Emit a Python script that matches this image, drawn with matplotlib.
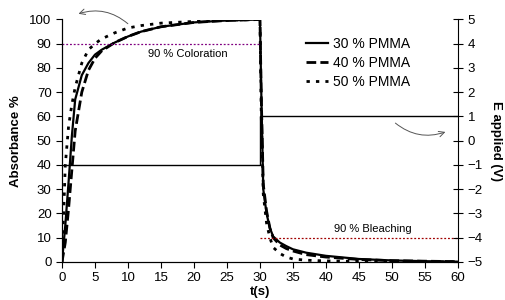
import matplotlib
matplotlib.use("Agg")
import matplotlib.pyplot as plt

plt.rcParams['font.family'] = ['Liberation Sans', 'DejaVu Sans']

# time axis (s): coloration then bleaching
t_data = [0, 0.5, 1, 1.5, 2, 3, 4, 5, 6, 8, 10, 12, 15, 20, 25, 29.9,
          30, 30.2, 30.5, 31, 31.5, 32, 33, 34, 35, 37, 40, 45, 50, 55, 60]

abs_30 = [0, 15, 33, 52, 67, 77, 82, 85.5, 87.5, 90.5, 93, 95, 97, 98.8, 99.6, 100,
          100, 70, 30, 20, 14, 10.5, 8, 6.5, 5.2, 3.8, 2.5, 1.2, 0.6, 0.3, 0.1]
abs_40 = [0, 8, 22, 38, 54, 70, 79, 84, 87, 90.5, 93, 95, 97, 98.8, 99.6, 100,
          100, 68, 32, 21, 14, 10, 7, 5.5, 4.5, 3, 2, 1, 0.5, 0.3, 0.1]
abs_50 = [0, 40, 56, 65, 72, 82, 87.5, 90, 92, 94.5, 96.5, 97.5, 98.5, 99.2, 99.7, 100,
          100, 60, 28, 16, 10, 6, 3.5, 2, 1.2, 0.7, 0.4, 0.2, 0.1, 0.05, 0]

labels = ['30 % PMMA', '40 % PMMA', '50 % PMMA']

# applied potential step
t_volt = [0, 30, 30, 60]
e_volt = [-1, -1, 1, 1]

fig = plt.figure(figsize=(5.06, 3.0), dpi=100)
ax = fig.add_axes([0.1225, 0.127, 0.7825, 0.808])

ax.plot(t_data, abs_30, color='black', lw=1.6, label=labels[0])
ax.plot(t_data, abs_40, color='black', lw=2.0, dashes=(3.5, 1.5), label=labels[1])
ax.plot(t_data, abs_50, color='black', lw=2.0, dashes=(1.2, 2.2), label=labels[2])

# 90 % reference lines
ax.plot([0, 30], [90, 90], color='#800080', lw=0.9, ls=(0, (1.5, 1.5)))
ax.plot([30, 60], [10, 10], color='#a00000', lw=0.9, ls=(0, (1.5, 1.5)))
ax.text(13.0, 88, '90 % Coloration', fontsize=8, va='top', ha='left')
ax.text(41.2, 11.5, '90 % Bleaching', fontsize=8, va='bottom', ha='left')

ax.set_xlim(0, 60)
ax.set_ylim(0, 100)
ax.set_xticks(range(0, 61, 5))
ax.set_yticks(range(0, 101, 10))
ax.tick_params(direction='out', length=4, labelsize=9.5, width=0.8)
ax.spines['top'].set_visible(False)
ax.spines['right'].set_visible(False)
ax.set_ylabel('Absorbance %', fontsize=9.5, fontweight='bold', labelpad=5)
ax.set_xlabel('t(s)', fontsize=9.5, fontweight='bold', labelpad=1.5)

ax2 = ax.twinx()
ax2.plot(t_volt, e_volt, color='black', lw=1.0)
ax2.set_ylim(-5, 5)
ax2.set_yticks(range(-5, 6, 1))
ax2.tick_params(direction='inout', length=7, labelsize=9.5, width=0.8)
ax2.spines['top'].set_visible(False)
ax2.set_ylabel('E applied (V)', fontsize=9.5, fontweight='bold', rotation=270, labelpad=14)

# curved arrows pointing to the relevant axis
ax.annotate('', xy=(2.1, 102), xytext=(10.3, 97.5), annotation_clip=False,
            arrowprops=dict(arrowstyle='->', color='#555555', lw=0.7,
                            connectionstyle='arc3,rad=0.3'))
ax.annotate('', xy=(58.5, 54), xytext=(50.2, 58), annotation_clip=False,
            arrowprops=dict(arrowstyle='->', color='#555555', lw=0.7,
                            connectionstyle='arc3,rad=0.3'))

ax.legend(loc='upper left', bbox_to_anchor=(0.585, 0.98), frameon=False,
          fontsize=10, handlelength=1.6, handletextpad=0.3, labelspacing=0.35)

fig.savefig('out.png', dpi=100)
